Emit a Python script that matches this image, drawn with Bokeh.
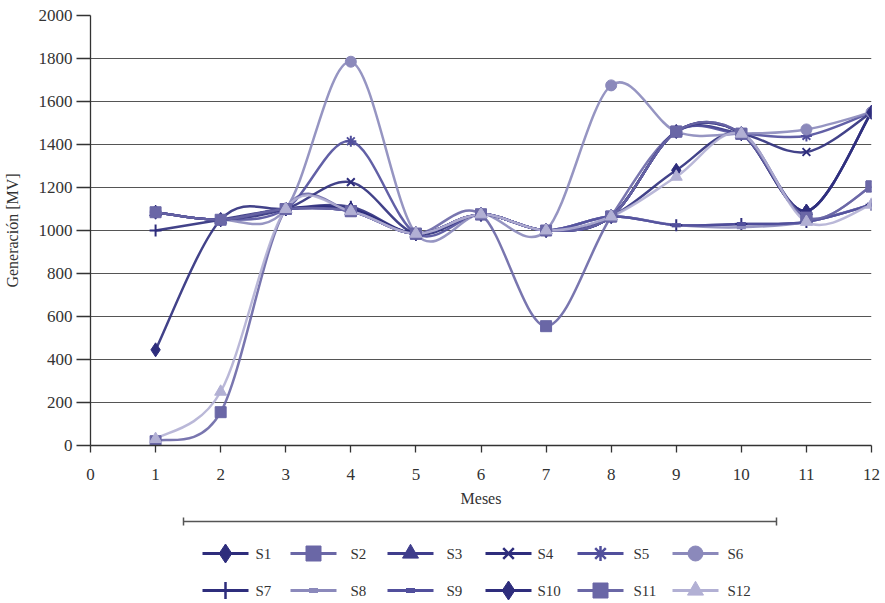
from bokeh.plotting import figure
from bokeh.models import FixedTicker, Range1d, ColumnDataSource
from bokeh.layouts import column
from bokeh.embed import file_html
from bokeh.resources import INLINE
from bokeh.core.properties import value

# ---------------- data ----------------
months = [1, 2, 3, 4, 5, 6, 7, 8, 9, 10, 11, 12]
x_ticks = [0, 1, 2, 3, 4, 5, 6, 7, 8, 9, 10, 11, 12]
y_ticks = [0, 200, 400, 600, 800, 1000, 1200, 1400, 1600, 1800, 2000]
series_names = ["S1", "S2", "S3", "S4", "S5", "S6", "S7", "S8", "S9", "S10", "S11", "S12"]

s1 = [445, 1050, 1100, 1100, 985, 1075, 1000, 1065, 1280, 1450, 1090, 1550]
s2 = [20, 155, 1100, 1090, 985, 1075, 555, 1065, 1460, 1450, 1060, 1205]
s3 = [1085, 1050, 1100, 1090, 985, 1075, 1000, 1065, 1460, 1450, 1090, 1550]
s4 = [1085, 1050, 1100, 1225, 985, 1075, 1000, 1065, 1460, 1450, 1365, 1550]
s5 = [1085, 1050, 1100, 1415, 985, 1075, 1000, 1065, 1460, 1450, 1440, 1550]
s6 = [1085, 1050, 1100, 1785, 985, 1075, 1000, 1675, 1460, 1450, 1470, 1550]
s7 = [1000, 1050, 1100, 1110, 985, 1075, 1000, 1065, 1025, 1030, 1040, 1120]
s8 = [1085, 1050, 1100, 1090, 985, 1075, 1000, 1065, 1025, 1015, 1040, 1120]
s9 = [1085, 1050, 1100, 1090, 985, 1075, 1000, 1065, 1025, 1030, 1040, 1120]
s10 = [1085, 1050, 1100, 1100, 985, 1075, 1000, 1065, 1460, 1450, 1090, 1550]
s11 = [1085, 1050, 1100, 1090, 985, 1075, 1000, 1065, 1460, 1450, 1060, 1205]
s12 = [30, 250, 1100, 1090, 985, 1075, 1000, 1065, 1250, 1450, 1040, 1120]
series_values = [s1, s2, s3, s4, s5, s6, s7, s8, s9, s10, s11, s12]

# ---------------- styles ----------------
colors = ["#2e2d7c", "#6a67a6", "#3f3d8c", "#2e2d7c", "#514f9c", "#8b89bb",
          "#2e2d7c", "#8b89bb", "#514f9c", "#2e2d7c", "#6a67a6", "#b2b0d4"]
markers = ["diamond", "square", "triangle", "x", "asterisk", "circle",
           "cross", "dash", "dash", "diamond", "square", "triangle"]
plot_sizes = [14, 11, 12, 11, 11, 11, 12, 9, 9, 14, 11, 12]
legend_sizes = [19, 15, 16, 15, 15, 15, 17, 9, 9, 19, 15, 16]
FONT = "Liberation Serif"

p = figure(frame_width=781, frame_height=430, output_backend="svg", toolbar_location=None,
           x_range=Range1d(0, 12), y_range=Range1d(0, 2000),
           min_border_left=90, min_border_right=12, min_border_top=15, min_border_bottom=70,
           x_axis_label="Meses", y_axis_label="Generación [MV]")
p.outline_line_color = None
p.background_fill_color = "white"
p.border_fill_color = "white"
p.xgrid.grid_line_color = None
p.ygrid.grid_line_color = "#555555"
p.ygrid.grid_line_width = 1
p.xaxis.ticker = FixedTicker(ticks=x_ticks)
p.yaxis.ticker = FixedTicker(ticks=y_ticks)
for ax in (p.xaxis[0], p.yaxis[0]):
    ax.axis_line_color = "#333333"
    ax.axis_line_width = 1.3
    ax.major_tick_line_color = "#333333"
    ax.major_tick_line_width = 1.3
    ax.minor_tick_line_color = None
    ax.major_tick_in = 0
    ax.major_label_text_font = FONT
    ax.major_label_text_font_size = "17px"
    ax.major_label_text_color = "#333333"
    ax.axis_label_text_font = FONT
    ax.axis_label_text_font_size = "16px"
    ax.axis_label_text_font_style = "normal"
    ax.axis_label_text_color = "#333333"
p.yaxis.major_tick_out = 14
p.yaxis.major_label_standoff = 4
p.yaxis.axis_label_standoff = 15
p.xaxis.major_tick_out = 7
p.xaxis.major_label_standoff = 16
p.xaxis.axis_label_standoff = 7


def bezier_source(xs, ys):
    n = len(xs)
    d = dict(x0=[], y0=[], x1=[], y1=[], cx0=[], cy0=[], cx1=[], cy1=[])
    for i in range(n - 1):
        i0 = max(i - 1, 0)
        i3 = min(i + 2, n - 1)
        d["x0"].append(xs[i]); d["y0"].append(ys[i])
        d["x1"].append(xs[i + 1]); d["y1"].append(ys[i + 1])
        d["cx0"].append(xs[i] + (xs[i + 1] - xs[i0]) / 6.0)
        d["cy0"].append(ys[i] + (ys[i + 1] - ys[i0]) / 6.0)
        d["cx1"].append(xs[i + 1] - (xs[i3] - xs[i]) / 6.0)
        d["cy1"].append(ys[i + 1] - (ys[i3] - ys[i]) / 6.0)
    return ColumnDataSource(d)


for vals, col in zip(series_values, colors):
    p.bezier(x0="x0", y0="y0", x1="x1", y1="y1", cx0="cx0", cy0="cy0", cx1="cx1", cy1="cy1",
             source=bezier_source(months, vals), line_color=col, line_width=2.5, line_alpha=0.9)

for vals, col, mk, sz in zip(series_values, colors, markers, plot_sizes):
    lw = 4 if mk == "dash" else 2 if mk in ("x", "asterisk", "cross") else 1
    p.scatter(months, vals, marker=mk, size=sz, fill_color=col, line_color=col, line_width=lw)

# ---------------- legend panel (frame aligned with the plot frame) ----------------
LW, LH = 781, 88
leg = figure(frame_width=LW, frame_height=LH, output_backend="svg", toolbar_location=None,
             x_range=Range1d(0, LW), y_range=Range1d(LH, 0),
             x_axis_type=None, y_axis_type=None, min_border=0)
leg.outline_line_color = None
leg.xgrid.grid_line_color = None
leg.ygrid.grid_line_color = None

# bracket line above legend
bx0, bx1, by = 93, 686, 6
leg.segment(x0=[bx0, bx0, bx1], y0=[by, by - 4, by - 4], x1=[bx1, bx0, bx1], y1=[by, by + 4, by + 4],
            line_color="#555555", line_width=1.5)

col_marker_x = [135, 223, 320, 418, 510, 605]
col_text_x = [165, 260, 356, 447, 543, 637]
row_y = [38, 75]
for k, (name, col, mk, sz) in enumerate(zip(series_names, colors, markers, legend_sizes)):
    r, c = divmod(k, 6)
    mx, my = col_marker_x[c], row_y[r]
    leg.segment(x0=[mx - 23], y0=[my], x1=[mx + 23], y1=[my], line_color=col, line_width=3)
    lw = 5 if mk == "dash" else 2.5 if mk in ("x", "asterisk", "cross") else 1
    leg.scatter([mx], [my], marker=mk, size=sz, fill_color=col, line_color=col, line_width=lw)
    leg.text([col_text_x[c]], [my], text=[name], text_font=value(FONT), text_font_size="15px",
             text_baseline="middle", text_align="left", text_color="#333333")

layout = column(p, leg, spacing=0)
open("out.html", "w").write(file_html(layout, INLINE))
